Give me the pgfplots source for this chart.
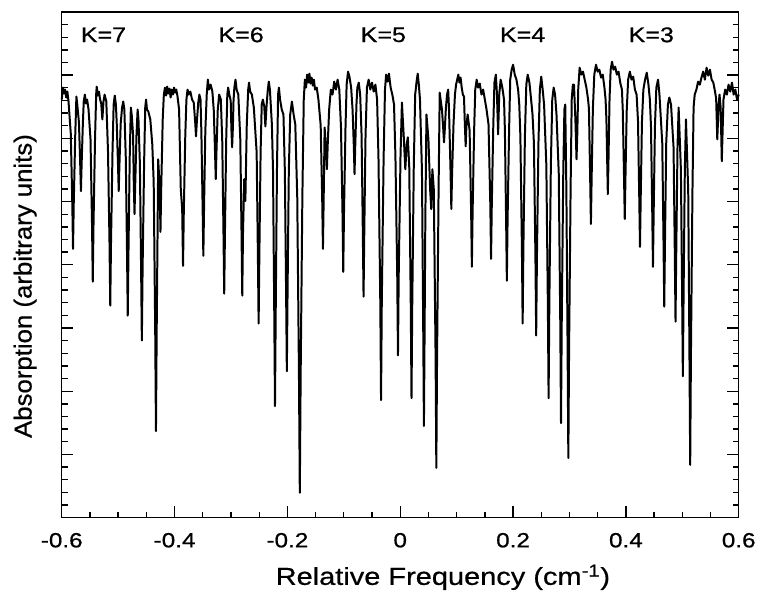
\documentclass[border=0pt]{standalone}
\usepackage{fontspec}
\setmainfont{Liberation Sans}[FakeStretch=1.05, FakeBold=0.6]
\newfontfamily\wide{Liberation Sans}[FakeStretch=1.18, FakeBold=0.6]
\usepackage{pgfplots}
\pgfplotsset{compat=1.18}

\begin{document}
\begin{tikzpicture}
\begin{axis}[
    width=510pt, height=381pt,
    scale only axis,
    clip=false,
    xmin=-0.6, xmax=0.6,
    ymin=0, ymax=508,
    xtick={-0.6,-0.4,-0.2,0,0.2,0.4,0.6},
    xticklabels={-0.6,-0.4,-0.2,0,0.2,0.4,0.6},
    minor x tick num=3,
    ytick={0,63.5,127,190.5,254,317.5,381,444.5,508},
    yticklabels={},
    minor y tick num=4,
    tick align=inside,
    xtick pos=left,
    ytick pos=both,
    major tick length=8.5pt,
    minor tick length=4.5pt,
    tick style={line width=1pt, black},
    axis line style={line width=1.1pt},
    xticklabel style={font=\wide\fontsize{15.5}{17}\selectfont, yshift=-8pt},
    xlabel={Relative Frequency (cm\textsuperscript{-1})},
    xlabel style={font=\wide\fontsize{18.5}{20}\selectfont, at={(axis description cs:0.563,-0.118)}, anchor=center},
    ylabel={Absorption (arbitrary units)},
    ylabel style={font=\fontsize{18.5}{20}\selectfont, at={(axis description cs:-0.054,0.458)}, anchor=center, rotate=0},
]
\addplot[black, line width=1.5pt, line join=round] coordinates {
(-0.600,420) (-0.598,432) (-0.596,426) (-0.594,430) (-0.592,422) (-0.590,428) (-0.588,418)
(-0.584,386) (-0.5813,316) (-0.580,270) (-0.5787,316) (-0.576,386)
(-0.574,423) (-0.5725,415)
(-0.5695,397) (-0.5673,356) (-0.566,328) (-0.5647,356) (-0.5625,397)
(-0.561,418) (-0.559,425) (-0.557,416) (-0.555,420) (-0.5525,410)
(-0.549,380) (-0.5463,294) (-0.545,237) (-0.5437,294) (-0.541,380)
(-0.539,425) (-0.538,433) (-0.536,424) (-0.534,428) (-0.532,420)
(-0.530,416) (-0.528,400) (-0.526,418)
(-0.524,425) (-0.521,418)
(-0.518,368) (-0.5153,275) (-0.514,213) (-0.5127,275) (-0.510,368)
(-0.508,415) (-0.506,424) (-0.504,415)
(-0.5025,396) (-0.5003,355) (-0.499,328) (-0.4977,355) (-0.4955,396)
(-0.493,412) (-0.491,418) (-0.489,410)
(-0.4865,362) (-0.4843,267) (-0.483,203) (-0.4817,267) (-0.4795,362)
(-0.4775,412) (-0.476,405)
(-0.4735,384) (-0.4723,336) (-0.471,305) (-0.4697,336) (-0.4675,384)
(-0.4655,410) (-0.464,400)
(-0.4615,356) (-0.4593,249) (-0.458,178) (-0.4567,249) (-0.454,356)
(-0.452,412) (-0.4505,420) (-0.449,410) (-0.4465,408)
(-0.443,400) (-0.4395,375) (-0.437,337) (-0.4343,187) (-0.433,87) (-0.4317,187) (-0.429,360)
(-0.4263,330) (-0.425,287) (-0.4237,330) (-0.421,400) (-0.419,425)
(-0.417,432) (-0.415,424) (-0.413,433) (-0.411,426) (-0.409,431) (-0.407,422) (-0.405,430)
(-0.403,425) (-0.401,432) (-0.399,427) (-0.397,430) (-0.395,424)
(-0.392,410) (-0.389,330) (-0.3865,310) (-0.385,253) (-0.3837,305) (-0.381,384)
(-0.379,420) (-0.377,430) (-0.375,425) (-0.372,428) (-0.369,420)
(-0.366,417) (-0.3633,396) (-0.362,383) (-0.3607,396) (-0.358,417)
(-0.356,425) (-0.354,420)
(-0.3525,388) (-0.3503,313) (-0.349,263) (-0.3477,313) (-0.3455,388)
(-0.343,425) (-0.341,440) (-0.339,430) (-0.336,435) (-0.333,428)
(-0.3305,409) (-0.3283,368) (-0.327,340) (-0.3257,368) (-0.3235,409)
(-0.321,425) (-0.318,420)
(-0.3155,379) (-0.3133,286) (-0.312,225) (-0.3107,286) (-0.3085,379)
(-0.3065,425) (-0.305,432) (-0.303,425)
(-0.3005,419) (-0.2993,391) (-0.298,372) (-0.2967,391) (-0.2955,419)
(-0.294,432) (-0.292,440) (-0.290,430) (-0.287,425)
(-0.2835,380) (-0.2813,286) (-0.280,223) (-0.2787,286) (-0.2765,340) (-0.2745,318) (-0.272,395)
(-0.2695,430) (-0.268,437) (-0.266,428) (-0.263,425) (-0.2595,412)
(-0.2545,367) (-0.2523,264) (-0.251,195) (-0.2497,264) (-0.2475,367)
(-0.2455,415) (-0.2435,420)
(-0.241,413) (-0.239,393) (-0.237,413)
(-0.235,428) (-0.233,438) (-0.231,430) (-0.229,410)
(-0.2275,395) (-0.2255,349) (-0.2233,207) (-0.222,112) (-0.2207,207) (-0.2185,349)
(-0.2165,425) (-0.215,432) (-0.213,420) (-0.210,410) (-0.207,405)
(-0.2045,348) (-0.2023,227) (-0.201,147) (-0.1997,227) (-0.1975,348)
(-0.195,405) (-0.192,418) (-0.189,405) (-0.186,395)
(-0.1825,321) (-0.1795,143) (-0.178,25) (-0.1765,143) (-0.1735,321)
(-0.171,420) (-0.169,440) (-0.167,432) (-0.165,445) (-0.163,437) (-0.161,446) (-0.159,436)
(-0.157,442) (-0.155,434) (-0.153,440) (-0.151,430) (-0.148,432) (-0.145,420)
(-0.141,394) (-0.1383,320) (-0.137,270) (-0.1357,320) (-0.134,392)
(-0.1315,370) (-0.130,350) (-0.1285,375) (-0.126,410)
(-0.123,430) (-0.120,425) (-0.117,438) (-0.114,430) (-0.111,440) (-0.108,430)
(-0.105,392) (-0.1023,305) (-0.101,247) (-0.0997,305) (-0.097,392)
(-0.095,435) (-0.0925,448) (-0.090,443) (-0.087,432)
(-0.0845,410) (-0.0823,374) (-0.081,345) (-0.0797,374) (-0.0775,416)
(-0.076,432) (-0.0735,437) (-0.071,425)
(-0.0685,384) (-0.0663,287) (-0.065,222) (-0.0637,287) (-0.0615,384)
(-0.059,432) (-0.056,440) (-0.053,430) (-0.050,437) (-0.047,428) (-0.044,435) (-0.041,420)
(-0.0385,360) (-0.0353,215) (-0.034,118) (-0.0327,215) (-0.0295,360)
(-0.027,430) (-0.025,445) (-0.0225,438) (-0.020,446) (-0.017,432) (-0.014,425) (-0.011,415)
(-0.0085,363) (-0.0053,243) (-0.004,163) (-0.0027,243) (0.0005,363)
(0.003,417) (0.0065,380) (0.009,350) (0.0115,375) (0.0135,382)
(0.016,352) (0.0187,213) (0.020,120) (0.0213,213) (0.024,352)
(0.0265,425) (0.029,438) (0.031,446) (0.033,435) (0.035,420)
(0.0385,349) (0.0407,195) (0.042,92) (0.0433,195) (0.0445,300) (0.0465,405) (0.050,380)
(0.053,330) (0.055,310) (0.057,350) (0.0595,330) (0.0627,161) (0.064,50) (0.0653,161)
(0.068,330) (0.070,427) (0.072,418)
(0.074,410) (0.0763,390) (0.0776,377) (0.079,390) (0.081,412)
(0.083,425) (0.085,430)
(0.0865,410) (0.0893,345) (0.0906,310) (0.0919,345) (0.0945,396) (0.097,425)
(0.099,435) (0.101,440) (0.103,445) (0.105,437) (0.107,442) (0.109,432) (0.111,425)
(0.113,423) (0.1147,393) (0.116,373) (0.1173,393) (0.1195,405)
(0.123,389) (0.1257,307) (0.127,252) (0.1283,307) (0.131,389)
(0.133,430) (0.1355,440) (0.138,432) (0.141,436) (0.144,425) (0.147,430) (0.150,420) (0.153,410)
(0.1565,395) (0.1597,314) (0.161,260) (0.1623,314) (0.165,395)
(0.167,437) (0.1695,445)
(0.1715,425) (0.1735,385) (0.1755,425)
(0.178,440) (0.181,432) (0.184,420)
(0.1855,390) (0.1877,299) (0.189,238) (0.1903,299) (0.193,390)
(0.195,440) (0.1975,450) (0.200,455) (0.203,445) (0.206,440) (0.209,430) (0.211,415)
(0.213,383) (0.2157,270) (0.217,195) (0.2183,270) (0.221,383)
(0.2235,435) (0.226,445) (0.229,437) (0.232,420) (0.2345,405)
(0.237,376) (0.2397,260) (0.241,183) (0.2423,260) (0.245,376)
(0.2475,430) (0.250,443) (0.2525,430) (0.255,415)
(0.259,354) (0.2617,214) (0.263,120) (0.2643,214) (0.267,354)
(0.2695,420) (0.272,432) (0.2745,425) (0.277,405)
(0.281,346) (0.2837,196) (0.285,95) (0.2863,196) (0.289,346)
(0.291,410) (0.2925,415)
(0.2945,330) (0.2967,168) (0.298,60) (0.2993,168) (0.302,330)
(0.304,420) (0.306,435) (0.308,435)
(0.3105,400) (0.3115,380) (0.3125,360) (0.3138,384) (0.3155,430)
(0.318,452) (0.321,445) (0.324,448) (0.327,440) (0.330,432) (0.333,420)
(0.3345,411) (0.3367,341) (0.338,295) (0.3393,341) (0.3415,411)
(0.344,445) (0.347,455) (0.350,448) (0.353,450) (0.356,442) (0.359,445) (0.362,432) (0.364,420)
(0.3655,400) (0.3667,363) (0.368,325) (0.3693,363) (0.371,420)
(0.373,450) (0.3755,458) (0.378,450) (0.381,453) (0.384,445) (0.387,448) (0.390,437) (0.393,430)
(0.3945,409) (0.3967,343) (0.398,300) (0.3993,343) (0.4015,409)
(0.404,440) (0.407,448) (0.410,440) (0.413,443) (0.416,430) (0.419,425)
(0.4215,398) (0.4237,322) (0.425,272) (0.4263,322) (0.4285,398)
(0.431,430) (0.434,440) (0.437,447) (0.440,435) (0.4425,420)
(0.4445,393) (0.4467,308) (0.448,252) (0.4493,308) (0.4515,393)
(0.454,432) (0.457,440) (0.4595,425)
(0.4645,376) (0.4667,277) (0.468,212) (0.4693,277) (0.4715,376)
(0.4745,415) (0.477,422) (0.480,415)
(0.4845,372) (0.4867,267) (0.488,197) (0.4893,267) (0.4915,372)
(0.4935,412)
(0.4975,350) (0.4997,225) (0.501,142) (0.5023,225) (0.5045,350)
(0.5065,400)
(0.5105,328) (0.5127,163) (0.514,53) (0.5153,163) (0.518,328)
(0.520,412) (0.522,425) (0.525,430) (0.528,438) (0.531,435) (0.534,442) (0.537,448) (0.540,440)
(0.543,452) (0.546,444) (0.549,450) (0.552,440) (0.555,437) (0.558,428)
(0.560,421) (0.5612,397) (0.562,380) (0.5632,397) (0.5645,415)
(0.566,425)
(0.568,412) (0.5692,380) (0.570,358) (0.5713,385) (0.573,420)
(0.576,430) (0.579,425) (0.582,435) (0.585,428) (0.588,437) (0.591,425) (0.594,430) (0.597,420) (0.600,425)
};
\node[font=\wide\fontsize{16}{18}\selectfont] at (axis cs:-0.526,485) {K=7};
\node[font=\wide\fontsize{16}{18}\selectfont] at (axis cs:-0.282,485) {K=6};
\node[font=\wide\fontsize{16}{18}\selectfont] at (axis cs:-0.030,485) {K=5};
\node[font=\wide\fontsize{16}{18}\selectfont] at (axis cs:0.217,485) {K=4};
\node[font=\wide\fontsize{16}{18}\selectfont] at (axis cs:0.445,485) {K=3};
\path (axis description cs:-0.0912,1.0236) rectangle (axis description cs:1.0265,-0.1535);
\end{axis}
\end{tikzpicture}
\end{document}
